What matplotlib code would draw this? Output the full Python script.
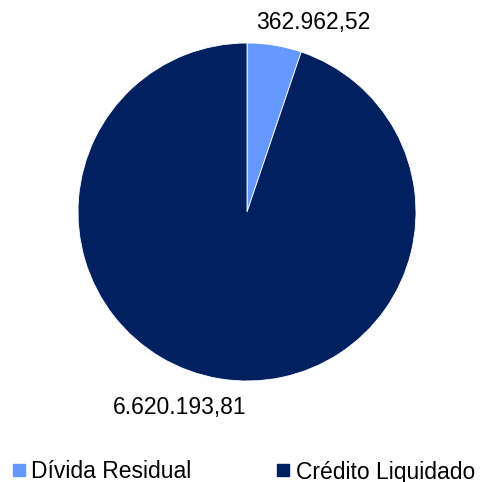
import matplotlib
matplotlib.use("Agg")
import matplotlib.pyplot as plt
from matplotlib.lines import Line2D

plt.rcParams['font.family'] = ['Liberation Sans', 'DejaVu Sans']

# data
categories = ["Dívida Residual", "Crédito Liquidado"]
values = [362962.52, 6620193.81]
value_labels = ["362.962,52", "6.620.193,81"]
colors = ["#6699ff", "#002060"]

fig = plt.figure(figsize=(4.82, 4.82), dpi=100)
ax = fig.add_axes([78 / 482, 101 / 482, 338 / 482, 338 / 482])

wedges, _ = ax.pie(values, colors=colors, startangle=90, counterclock=False,
                   radius=1, wedgeprops=dict(edgecolor="white", linewidth=0.6))
ax.set_xlim(-1, 1)
ax.set_ylim(-1, 1)
ax.set_aspect("equal")
ax.axis("off")

# value labels
ax.text(0.39, 1.124, value_labels[0], ha="center", va="center", fontsize=16.5, clip_on=False)
ax.text(-0.396, -1.154, value_labels[1], ha="center", va="center", fontsize=16.5, clip_on=False)

# legend
handles = [Line2D([], [], marker="s", linestyle="none", markersize=8,
                  markerfacecolor=c, markeredgecolor=c) for c in colors]
fig.legend(handles, categories, loc="center left", bbox_to_anchor=(5 / 482, 10 / 482),
           ncol=2, frameon=False, fontsize=16.5, handlelength=0.6, handletextpad=0.25,
           columnspacing=3.7, borderaxespad=0, borderpad=0.3)

fig.savefig("out.png", dpi=100)
